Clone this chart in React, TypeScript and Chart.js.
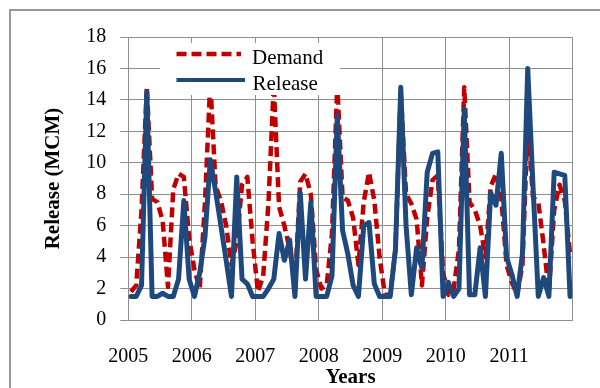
import React, { useEffect, useRef } from 'react';
import { Chart, registerables } from 'chart.js';

Chart.register(...registerables);

const yearLabels = ['2005', '2006', '2007', '2008', '2009', '2010', '2011'];

// Monthly demand (MCM), Jan 2005 - Dec 2011
const demand = [
  1.8, 2.2, 7.0, 14.8, 7.7, 7.5, 6.3, 2.1, 8.3, 9.3, 9.1, 5.2,
  3.2, 2.0, 7.5, 15.2, 8.5, 7.6, 6.0, 3.5, 5.0, 8.6, 9.1, 5.0,
  1.8, 2.8, 7.5, 15.0, 7.2, 6.0, 4.5, 2.3, 8.8, 9.3, 8.0, 3.2,
  2.0, 2.2, 5.5, 15.0, 7.8, 7.6, 6.5, 3.5, 7.5, 9.4, 7.6, 4.0,
  1.6, 1.6, 4.5, 14.5, 8.0, 7.4, 6.4, 2.2, 6.5, 8.9, 9.2, 3.0,
  1.6, 2.0, 4.5, 14.8, 7.5, 7.0, 6.0, 4.0, 8.5, 9.3, 7.8, 3.5,
  2.4, 1.6, 3.5, 12.5, 7.8, 7.5, 4.8, 1.8, 7.0, 8.6, 7.6, 4.2,
];

// Monthly release (MCM), Jan 2005 - Dec 2011
const release = [
  1.5, 1.5, 2.2, 14.5, 1.5, 1.5, 1.7, 1.5, 1.5, 2.6, 7.6, 2.6,
  1.5, 3.0, 5.3, 10.2, 8.2, 6.0, 3.8, 1.5, 9.1, 2.6, 2.3, 1.5,
  1.5, 1.5, 2.0, 2.6, 5.5, 3.8, 5.1, 1.5, 8.1, 2.6, 7.5, 1.5,
  1.5, 1.5, 2.8, 13.0, 5.7, 4.2, 2.2, 1.5, 6.0, 6.2, 2.3, 1.5,
  1.5, 1.5, 4.5, 14.8, 6.0, 1.6, 4.6, 3.3, 9.4, 10.6, 10.7, 1.5,
  2.4, 1.5, 2.0, 13.4, 1.6, 1.6, 4.6, 1.5, 8.1, 7.3, 10.6, 4.0,
  2.9, 1.5, 4.2, 16.0, 8.5, 1.5, 2.7, 1.5, 9.4, 9.3, 9.2, 1.5,
];

const seriesNames = ['Demand', 'Release'];
const yTitle = 'Release (MCM)';
const xTitle = 'Years';

const RED = '#C00000';
const BLUE = '#1F497D';
const GRID = '#8e8e8e';
const SERIF = '"Liberation Serif", "Times New Roman", serif';

const framePlugin = {
  id: 'frame',
  beforeDraw(chart: any) {
    const { ctx } = chart;
    ctx.save();
    ctx.strokeStyle = '#999999';
    ctx.lineWidth = 2;
    ctx.strokeRect(10, 10, 900, 900);
    ctx.restore();
  },
};

const legendPlugin = {
  id: 'innerLegend',
  afterDatasetsDraw(chart: any) {
    const { ctx } = chart;
    ctx.save();
    ctx.fillStyle = '#ffffff';
    ctx.fillRect(160, 43, 180, 52);
    // Demand sample
    ctx.strokeStyle = RED;
    ctx.lineWidth = 4.5;
    ctx.lineCap = 'butt';
    ctx.setLineDash([10, 5]);
    ctx.beginPath();
    ctx.moveTo(176.5, 54);
    ctx.lineTo(241, 54);
    ctx.stroke();
    // Release sample
    ctx.setLineDash([]);
    ctx.strokeStyle = BLUE;
    ctx.lineWidth = 4;
    ctx.beginPath();
    ctx.moveTo(176.5, 80);
    ctx.lineTo(245, 80);
    ctx.stroke();
    ctx.fillStyle = '#000000';
    ctx.font = `21px ${SERIF}`;
    ctx.textBaseline = 'alphabetic';
    ctx.textAlign = 'left';
    ctx.fillText(seriesNames[0], 252, 63.5);
    ctx.fillText(seriesNames[1], 252.5, 90);
    ctx.restore();
  },
};

export default function App() {
  const canvasRef = useRef<HTMLCanvasElement | null>(null);

  useEffect(() => {
    document.body.style.margin = '0';
    const canvas = canvasRef.current;
    if (!canvas) return;
    const chart = new Chart(canvas, {
      type: 'line',
      data: {
        datasets: [
          {
            label: seriesNames[1],
            data: release.map((v, i) => ({ x: i + 0.5, y: v })),
            borderColor: BLUE,
            backgroundColor: BLUE,
            borderWidth: 5,
            pointRadius: 0,
            tension: 0,
            borderJoinStyle: 'round',
            borderCapStyle: 'round',
            order: 0,
          },
          {
            label: seriesNames[0],
            data: demand.map((v, i) => ({ x: i + 0.5, y: v })),
            borderColor: RED,
            backgroundColor: RED,
            borderWidth: 4.5,
            borderDash: [10, 5],
            pointRadius: 0,
            tension: 0,
            borderJoinStyle: 'round',
            borderCapStyle: 'butt',
            order: 1,
          },
        ],
      },
      options: {
        responsive: false,
        animation: false,
        layout: { padding: { left: 30, right: 27.3, top: 37, bottom: 0 } },
        plugins: {
          legend: { display: false },
          tooltip: { enabled: false },
        },
        scales: {
          x: {
            type: 'linear',
            min: 0,
            max: 84,
            afterFit: (scale: any) => {
              scale.height = 68;
            },
            ticks: {
              stepSize: 12,
              maxRotation: 0,
              autoSkip: false,
              padding: 25,
              color: '#000',
              font: { family: SERIF, size: 20 },
              callback: (v: any) => {
                const idx = Math.round(Number(v) / 12);
                return idx < yearLabels.length ? yearLabels[idx] : '';
              },
            },
            grid: { color: GRID, lineWidth: 1, drawTicks: false },
            border: { color: GRID, width: 1 },
            title: {
              display: true,
              text: xTitle,
              color: '#000',
              font: { family: SERIF, size: 21, weight: 'bold' },
              padding: { top: 0, bottom: -2 },
            },
          },
          y: {
            min: 0,
            max: 18,
            afterFit: (scale: any) => {
              scale.width = 98.3;
            },
            ticks: {
              stepSize: 2,
              padding: 14,
              color: '#000',
              font: { family: SERIF, size: 20 },
            },
            grid: { color: GRID, lineWidth: 1, drawTicks: true, tickLength: 8 },
            border: { color: GRID, width: 1 },
            title: {
              display: true,
              text: yTitle,
              color: '#000',
              font: { family: SERIF, size: 21, weight: 'bold' },
              padding: { top: 11, bottom: 0 },
            },
          },
        },
      },
      plugins: [framePlugin, legendPlugin],
    } as any);
    return () => chart.destroy();
  }, []);

  return (
    <div style={{ position: 'relative', width: 600, height: 388 }}>
      <canvas ref={canvasRef} width={600} height={388} />
    </div>
  );
}
